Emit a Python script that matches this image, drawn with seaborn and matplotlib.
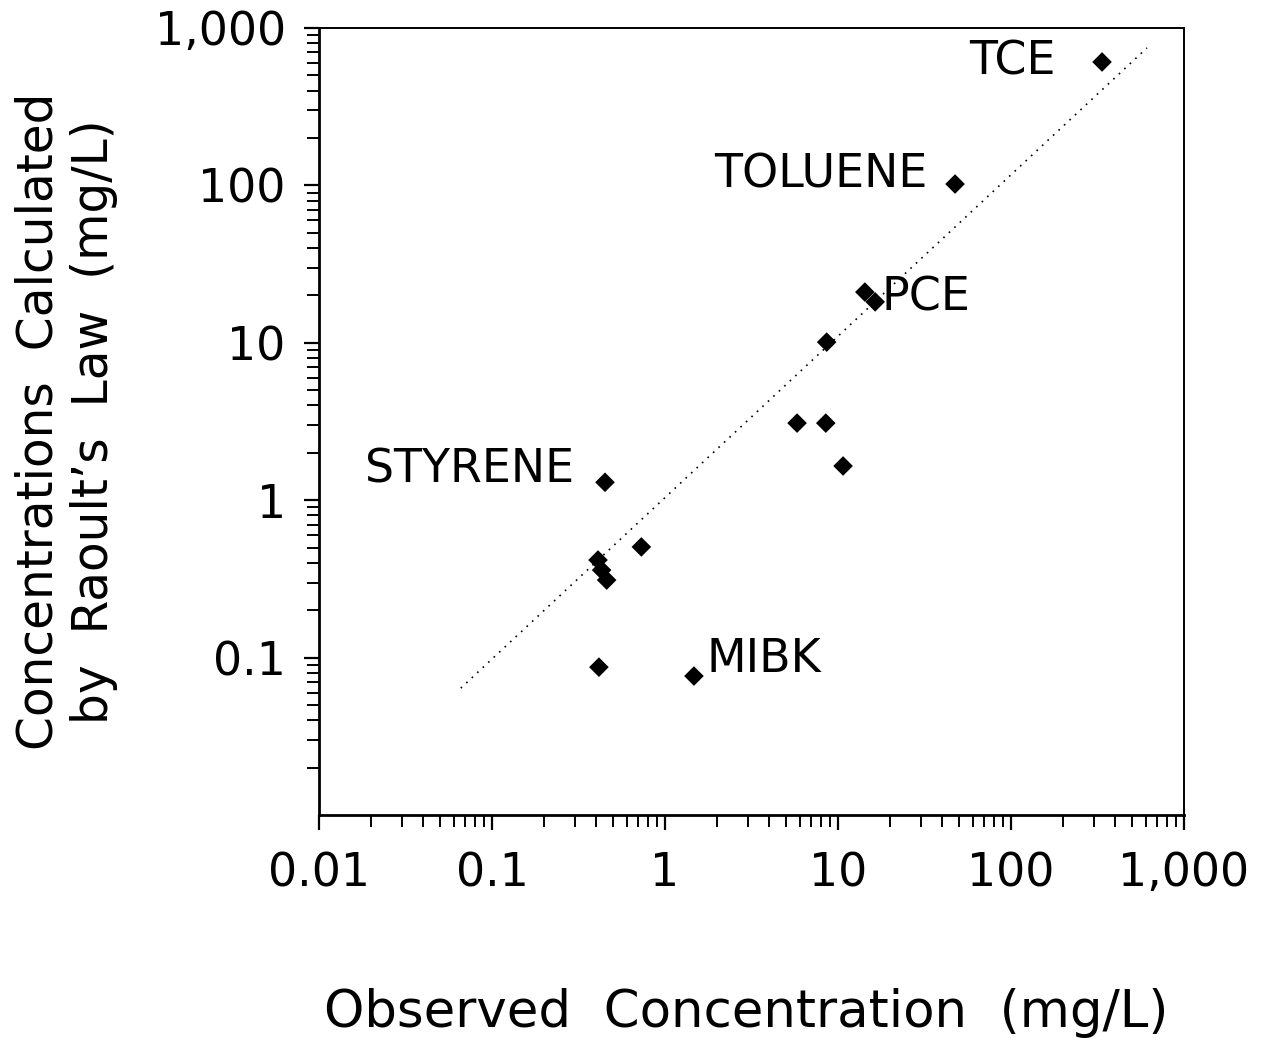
"""Raoult's law calculated vs observed concentrations (log-log)"""
import matplotlib
matplotlib.use("Agg")
import matplotlib.pyplot as plt
import matplotlib.ticker as mticker
import pandas as pd
import seaborn as sns

# observed vs calculated concentrations, mg/L
observed = [336, 47.5, 14.3, 16.4, 8.6, 5.8, 8.5, 10.7,
            0.45, 0.73, 0.41, 0.43, 0.46, 0.415, 1.47]
calculated = [608, 102, 21.0, 18.2, 10.1, 3.09, 3.09, 1.65,
              1.3, 0.505, 0.417, 0.36, 0.311, 0.087, 0.0764]

# compound labels: name, x, y, alignment
label_names = ["TCE", "TOLUENE", "PCE", "STYRENE", "MIBK"]
label_x = [180, 33, 17.9, 0.30, 1.73]
label_y = [610, 116, 19.3, 1.56, 0.097]
label_ha = ["right", "right", "left", "right", "left"]

# reference line endpoints
line_x = [0.066, 611]
line_y = [0.064, 747]

tick_vals = [0.01, 0.1, 1, 10, 100, 1000]
tick_text = ["0.01", "0.1", "1", "10", "100", "1,000"]

df = pd.DataFrame({"observed": observed, "calculated": calculated})

sns.set_theme(style="ticks")
plt.rcParams["font.family"] = ["DejaVu Sans"]

fig = plt.figure(figsize=(12.72, 10.40), dpi=100)
ax = fig.add_axes([0.2508, 0.2163, 0.680, 0.7568])

ax.plot(line_x, line_y, color="black", lw=1.2, linestyle=(0, (1, 3.5)))
sns.scatterplot(data=df, x="observed", y="calculated", marker="D",
                s=100, color="black", edgecolor="none", ax=ax, zorder=3)

for name, x, y, ha in zip(label_names, label_x, label_y, label_ha):
    ax.text(x, y, name, ha=ha, va="center", fontsize=33, color="black")

ax.set_xscale("log")
ax.set_yscale("log")
ax.set_xlim(0.01, 1000)
ax.set_ylim(0.01, 1000)

ax.xaxis.set_major_locator(mticker.FixedLocator(tick_vals))
ax.xaxis.set_major_formatter(mticker.FixedFormatter(tick_text))
ax.yaxis.set_major_locator(mticker.FixedLocator(tick_vals[1:]))
ax.yaxis.set_major_formatter(mticker.FixedFormatter(tick_text[1:]))
ax.xaxis.set_minor_locator(mticker.LogLocator(base=10, subs=range(2, 10), numticks=20))
ax.yaxis.set_minor_locator(mticker.LogLocator(base=10, subs=range(2, 10), numticks=20))
ax.xaxis.set_minor_formatter(mticker.NullFormatter())
ax.yaxis.set_minor_formatter(mticker.NullFormatter())

ax.tick_params(axis="both", which="major", direction="out", length=11,
               width=1.6, labelsize=33, color="black", labelcolor="black")
ax.tick_params(axis="both", which="minor", direction="out", length=8.5,
               width=1.4, color="black")
ax.tick_params(axis="y", which="major", pad=13)
ax.tick_params(axis="x", which="major", pad=15)

for side in ["left", "bottom"]:
    ax.spines[side].set_linewidth(2.0)
for side in ["top", "right"]:
    ax.spines[side].set_linewidth(1.4)
for sp in ax.spines.values():
    sp.set_color("black")

ax.set_xlabel("Observed  Concentration  (mg/L)", fontsize=37, color="black")
ax.set_ylabel("Concentrations  Calculated\nby  Raoult\u2019s  Law  (mg/L)",
              fontsize=35, color="black", linespacing=1.2)
ax.xaxis.set_label_coords(0.494, -0.22)
ax.yaxis.set_label_coords(-0.232, 0.5)

fig.savefig("out.png", dpi=100)
